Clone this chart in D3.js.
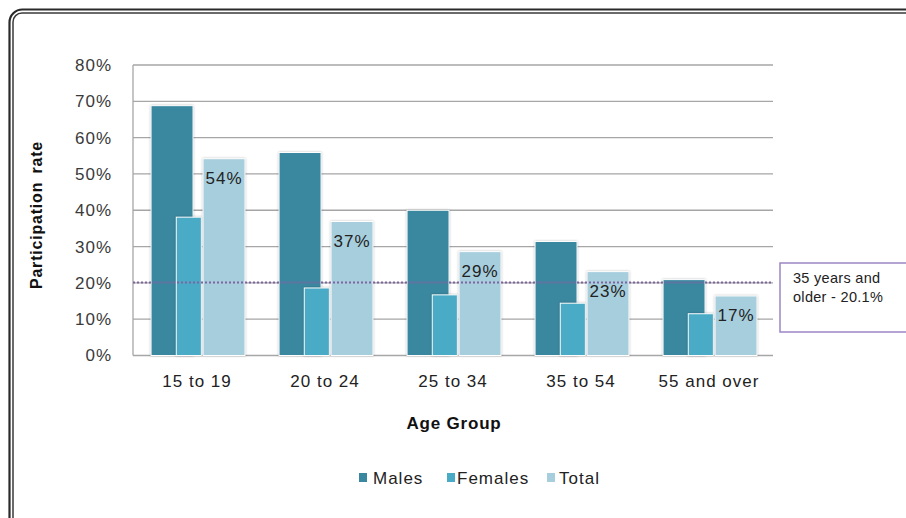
<!DOCTYPE html>
<html><head><meta charset="utf-8">
<script src="https://cdn.jsdelivr.net/npm/d3@7"></script>
<style>body{margin:0;background:#fff;}svg{display:block;font-family:"Liberation Sans",Arial,sans-serif;}</style>
</head><body>
<svg id="c" width="906" height="518"></svg>
<script>
const categories = ["15 to 19","20 to 24","25 to 34","35 to 54","55 and over"];
const males   = [68.8, 55.9, 40.0, 31.4, 20.9];
const females = [38.1, 18.6, 16.7, 14.4, 11.5];
const total   = [54.2, 36.9, 28.6, 23.1, 16.4];
const totalLabels = ["54%","37%","29%","23%","17%"];
const yTicks = [0,10,20,30,40,50,60,70,80];
const refValue = 20.1;
const refText = ["35 years and","older - 20.1%"];
const seriesNames = ["Males","Females","Total"];
const colors = ["#3a88a0","#4aabc6","#a7cedd"];

const svg = d3.select("#c");
const L=133, R=773, T=65, B=355.5;
const x = d3.scaleBand().domain(categories).range([L,R]);
const y = d3.scaleLinear().domain([0,80]).range([B,T]);
const bw = x.bandwidth();
// relative positions inside a category (overlapping Excel layout)
const layout = [
  {data:males,   off:0.141, w:0.328, color:colors[0]},
  {data:females, off:0.338, w:0.196, color:colors[1]},
  {data:total,   off:0.547, w:0.328, color:colors[2]}
];
const FS = 17, LS = 1;

// border
svg.append("rect").attr("x",9.5).attr("y",9.5).attr("width",1000).attr("height",1000).attr("rx",13)
  .attr("fill","none").attr("stroke","#2a2a2a").attr("stroke-width",2.2);
svg.append("rect").attr("x",13).attr("y",13).attr("width",1000).attr("height",1000).attr("rx",9)
  .attr("fill","none").attr("stroke","#3a3a3a").attr("stroke-width",1.5);

// gridlines
svg.append("g").selectAll("line").data(yTicks).join("line")
  .attr("x1",L).attr("x2",R).attr("y1",d=>y(d)).attr("y2",d=>y(d))
  .attr("stroke","#a6a6a6").attr("stroke-width",1.3);
// left axis line
svg.append("line").attr("x1",L).attr("x2",L).attr("y1",T).attr("y2",B).attr("stroke","#a6a6a6").attr("stroke-width",1.3);

// y axis labels
const yAxis = d3.axisLeft(y).tickValues(yTicks).tickFormat(d=>d+"%").tickSize(0).tickPadding(21);
const ya = svg.append("g").attr("transform",`translate(${L},0)`).call(yAxis);
ya.select(".domain").remove();
ya.selectAll("text").attr("font-size",FS).attr("letter-spacing",LS).attr("fill","#3a3a3a")
  .attr("font-family","Liberation Sans, Arial, sans-serif");

// bars
layout.forEach(s=>{
  svg.append("g").selectAll("rect").data(categories).join("rect")
    .attr("x",d=>x(d)+s.off*bw).attr("width",s.w*bw)
    .attr("y",(d,i)=>y(s.data[i])).attr("height",(d,i)=>B-y(s.data[i]))
    .attr("fill",s.color).attr("stroke","#ffffff").attr("stroke-width",1)
    .style("filter","drop-shadow(0.5px 0.5px 1px rgba(0,0,0,0.25))");
});

// data labels on total
svg.append("g").selectAll("text").data(categories).join("text")
  .attr("x",d=>x(d)+(layout[2].off+layout[2].w/2)*bw)
  .attr("y",(d,i)=>y(total[i])+25)
  .attr("text-anchor","middle").attr("font-size",FS).attr("letter-spacing",LS).attr("fill","#222")
  .text((d,i)=>totalLabels[i]);

// reference dotted line
svg.append("line").attr("x1",L).attr("x2",R).attr("y1",y(refValue)).attr("y2",y(refValue))
  .attr("stroke","#8064a2").attr("stroke-width",2.2).attr("stroke-dasharray","2,2");

// x axis labels
const xAxis = d3.axisBottom(x).tickSize(0).tickPadding(19);
const xa = svg.append("g").attr("transform",`translate(0,${B})`).call(xAxis);
xa.select(".domain").remove();
xa.selectAll("text").attr("font-size",FS).attr("letter-spacing",LS).attr("fill","#222")
  .attr("font-family","Liberation Sans, Arial, sans-serif");

// axis titles
svg.append("text").attr("x",454).attr("y",429).attr("text-anchor","middle")
  .attr("font-size",17).attr("letter-spacing",0.8).attr("font-weight","bold").attr("fill","#111").text("Age Group");
svg.append("text").attr("transform","translate(42,215) rotate(-90)").attr("text-anchor","middle")
  .attr("font-size",16).attr("letter-spacing",0.8).attr("word-spacing",3).attr("font-weight","bold").attr("fill","#111")
  .text("Participation rate");

// annotation box
svg.append("rect").attr("x",780).attr("y",263).attr("width",140).attr("height",69)
  .attr("fill","#fff").attr("stroke","#9c86c6").attr("stroke-width",1.5);
svg.append("g").selectAll("text").data(refText).join("text")
  .attr("x",793).attr("y",(d,i)=>283+i*18.5).attr("font-size",14.5).attr("fill","#222")
  .attr("letter-spacing",0.3).text(d=>d);

// legend
const legX = [359,447,547];
const lg = svg.append("g").selectAll("g").data(seriesNames).join("g")
  .attr("transform",(d,i)=>`translate(${legX[i]},473)`);
lg.append("rect").attr("width",8).attr("height",9).attr("fill",(d,i)=>colors[i]);
lg.append("text").attr("x",(d,i)=>[14,10,12][i]).attr("y",10.5).attr("font-size",FS).attr("letter-spacing",LS)
  .attr("fill","#222").text(d=>d);
</script>
</body></html>
